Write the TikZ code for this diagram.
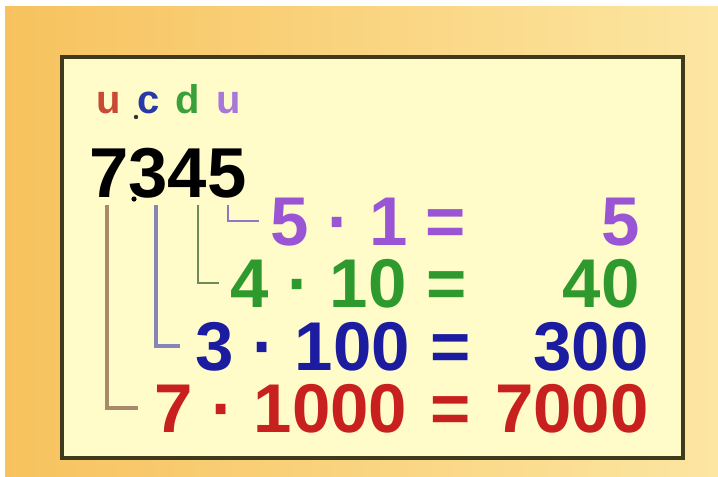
\documentclass[tikz,border=0pt]{standalone}
\usepackage{fontspec}
\setmainfont{Liberation Sans}
\definecolor{bgL}{HTML}{F7C25E}
\definecolor{bgR}{HTML}{FCE6A2}
\definecolor{boxfill}{HTML}{FFFCCA}
\definecolor{boxline}{HTML}{403A1C}
\definecolor{cpur}{HTML}{9A55D5}
\definecolor{cgrn}{HTML}{2E9A2E}
\definecolor{cblu}{HTML}{1C1CA0}
\definecolor{cred}{HTML}{C8201E}
\definecolor{lred}{HTML}{C84A34}
\definecolor{lblu}{HTML}{2838A8}
\definecolor{lgrn}{HTML}{3AA03A}
\definecolor{lpur}{HTML}{A878D8}
\definecolor{kred}{HTML}{A88A6A}
\definecolor{kblu}{HTML}{8585BA}
\definecolor{kgrn}{HTML}{6F8A5A}
\definecolor{kpur}{HTML}{9078C8}
\tikzset{
  eq/.style={inner sep=0pt, text height=36pt, text depth=0pt, font=\fontsize{51.75pt}{60pt}\selectfont\bfseries},
  lab/.style={inner sep=0pt, anchor=base, font=\fontsize{30pt}{34pt}\selectfont\bfseries},
  bracket/.style={line width=2.5pt},
}
\begin{document}
\begin{tikzpicture}[x=0.75pt,y=-0.75pt]
\useasboundingbox (0,0) rectangle (718,476);
\fill[white] (0,0) rectangle (718,476);
\shade[left color=bgL, right color=bgR] (5,6) rectangle (718,476);
\draw[boxline, line width=3.2pt, fill=boxfill] (62,57) rectangle (683,458);
% place-value letters
\node[lab, text=lred] (lu1) at (109,113) {u};
\node[lab, text=lblu] (lc) at (149,113) {c};
\node[lab, text=lgrn] (ld) at (188,113) {d};
\node[lab, text=lpur] (lu2) at (229,113) {u};
\fill[black!80] (136,117) circle (2.2);
% number
\node[inner sep=0pt, anchor=base west, font=\fontsize{53pt}{60pt}\selectfont\bfseries] (num) at (89,197) {7345};
\fill[black] (134,199) circle (2.6);
% rows
\node[eq, anchor=base west, text=cpur] (r1) at (270,245) {5 · 1};
\node[eq, anchor=base, text=cpur] (e1) at (446,245) {=};
\node[eq, anchor=base east, text=cpur] (v1) at (640,245) {5};
\node[eq, anchor=base west, text=cgrn] (r2) at (230,307) {4 · 10};
\node[eq, anchor=base, text=cgrn] (e2) at (447,307) {=};
\node[eq, anchor=base east, text=cgrn] (v2) at (640,307) {40};
\node[eq, anchor=base west, text=cblu] (r3) at (195,370) {3 · 100};
\node[eq, anchor=base, text=cblu] (e3) at (451,370) {=};
\node[eq, anchor=base east, text=cblu] (v3) at (649,370) {300};
\node[eq, anchor=base west, text=cred] (r4) at (154,432) {7 · 1000};
\node[eq, anchor=base, text=cred] (e4) at (451,432) {=};
\node[eq, anchor=base east, text=cred] (v4) at (649,432) {7000};
% brackets
\coordinate (t7) at (107,205);
\coordinate (t3) at (156,205);
\coordinate (t4) at (198,205);
\coordinate (t5) at (228,205);
\draw[bracket, kred] (t7) |- ([xshift=-12pt]r4.west);
\draw[bracket, kblu] (t3) |- ([xshift=-11pt]r3.west);
\draw[bracket, kgrn, line width=2.1pt] (t4) |- ([xshift=-8pt]r2.west);
\draw[bracket, kpur, line width=2.1pt] (t5) |- ([xshift=-8pt]r1.west);
\end{tikzpicture}
\end{document}
